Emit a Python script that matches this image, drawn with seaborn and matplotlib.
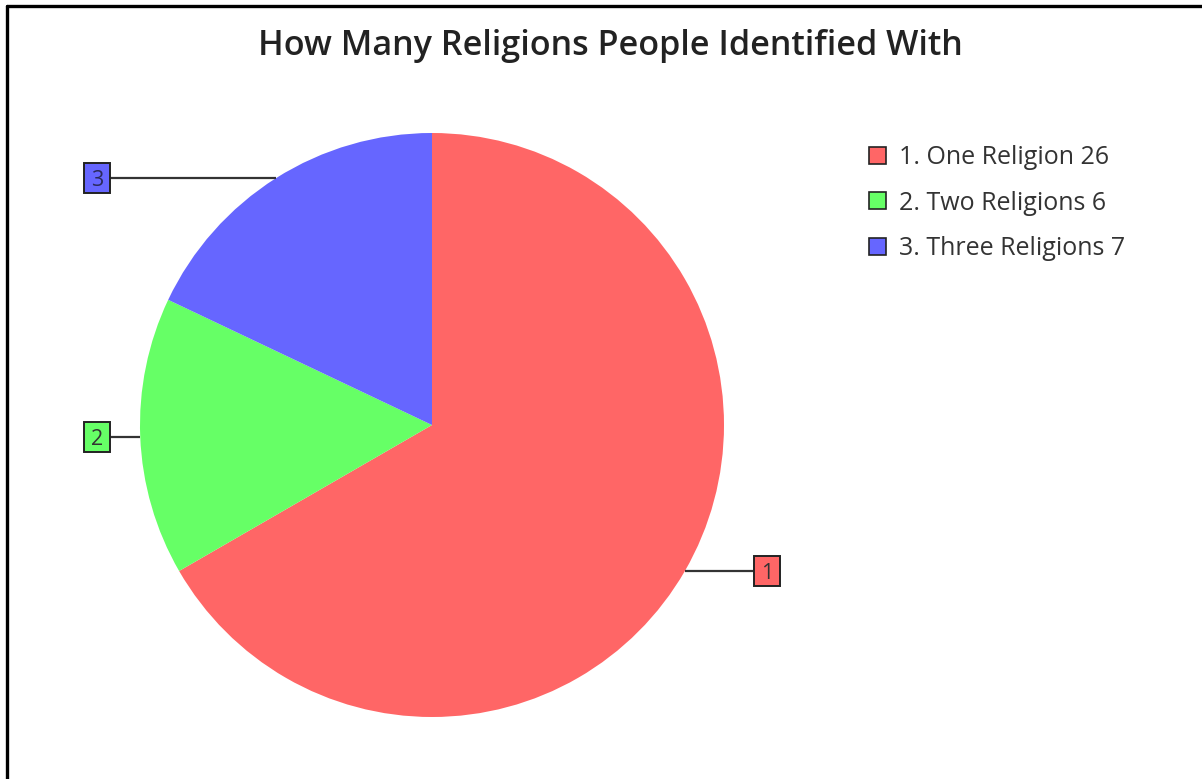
import numpy as np
import matplotlib
matplotlib.use("Agg")
import matplotlib.pyplot as plt
from matplotlib.patches import Patch, Rectangle
from matplotlib.lines import Line2D
import seaborn as sns

categories = ["1. One Religion", "2. Two Religions", "3. Three Religions"]
short_labels = ["1", "2", "3"]
counts = [26, 6, 7]
colors = ["#FF6666", "#66FF66", "#6666FF"]

sns.set_theme(style="white")
plt.rcParams["font.family"] = ["Open Sans", "DejaVu Sans"]

W, H = 1202, 779
fig = plt.figure(figsize=(W / 100, H / 100), dpi=100)
ax = fig.add_axes([0, 0, 1, 1])

cx, cy, r = 432, H - 425, 292
palette = sns.color_palette(colors)
wedges, _ = ax.pie(counts, colors=palette, startangle=90, counterclock=False,
                   radius=r, center=(cx, cy), frame=True,
                   wedgeprops=dict(linewidth=0))
ax.set_xlim(0, W)
ax.set_ylim(0, H)
ax.set_aspect("equal")
ax.axis("off")

# Numbered callouts, each joined to the middle of its slice by a horizontal leader
label_dx = 335
box_w, box_h = 26, 30
for w, lab, col in zip(wedges, short_labels, palette):
    mid = np.deg2rad((w.theta1 + w.theta2) / 2)
    px, py = cx + r * np.cos(mid), cy + r * np.sin(mid)
    side = 1 if np.cos(mid) >= 0 else -1
    lx = cx + side * label_dx
    edge = lx - side * box_w / 2
    ax.plot([px, edge], [py, py], color="#333333", lw=1.6, solid_capstyle="butt")
    ax.add_patch(Rectangle((lx - box_w / 2, py - box_h / 2), box_w, box_h,
                           facecolor=col, edgecolor="#222222", linewidth=1.4, zorder=3))
    ax.text(lx, py, lab, ha="center", va="center_baseline", fontsize=15.5,
            color="#2a2a5a" if lab == "3" else "#333333", zorder=4)

handles = [Patch(facecolor=c, edgecolor="#222222", linewidth=1.2) for c in palette]
legend_labels = [f"{c} {v}" for c, v in zip(categories, counts)]
leg = ax.legend(handles, legend_labels, loc="upper left",
                bbox_to_anchor=(869 / W, 1 - 145 / H), bbox_transform=fig.transFigure,
                frameon=False, fontsize=18, handlelength=0.68, handleheight=0.68,
                handletextpad=0.52, labelspacing=0.82, borderpad=0, borderaxespad=0)
for t in leg.get_texts():
    t.set_color("#333333")

fig.text(610 / W, 1 - 46 / H, "How Many Religions People Identified With",
         ha="center", va="center", fontsize=24.6, fontweight="semibold", color="#222222")

# Frame lines along the top and left edges
fig.add_artist(Line2D([7 / W, 1], [1 - 6 / H, 1 - 6 / H], color="black", lw=2.4,
                      transform=fig.transFigure))
fig.add_artist(Line2D([7 / W, 7 / W], [0, 1 - 6 / H], color="black", lw=2.4,
                      transform=fig.transFigure))

fig.savefig("out.png", dpi=100, facecolor="white")
